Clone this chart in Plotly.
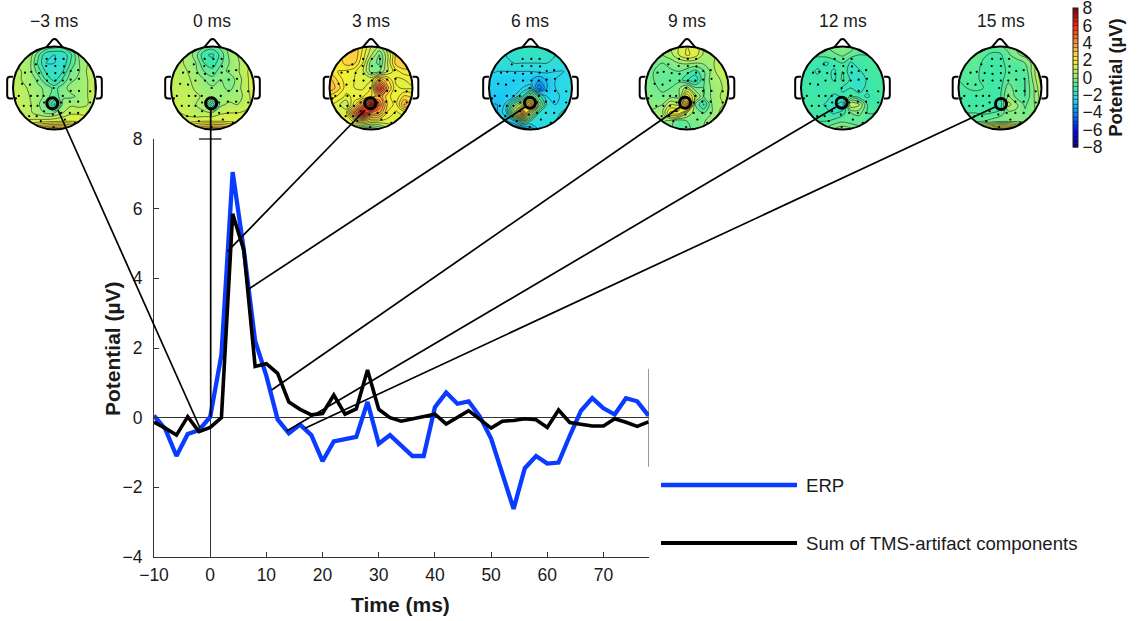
import numpy as np
import plotly.graph_objects as go

W, H = 1139, 621
time_ms = [-10,-8,-6,-4,-2,0,2,4,6,8,10,12,14,16,18,20,22,24,26,28,30,32,34,36,38,40,42,44,46,48,50,52,54,56,58,60,62,64,66,68,70,72,74,76,78]
erp = [0.06,-0.32,-1.1,-0.47,-0.36,0.02,1.8,7.05,4.8,2.2,1.2,-0.05,-0.45,-0.2,-0.5,-1.25,-0.68,-0.6,-0.55,0.45,-0.75,-0.5,-0.8,-1.1,-1.1,0.3,0.72,0.4,0.47,0.03,-0.6,-1.6,-2.62,-1.45,-1.1,-1.32,-1.29,-0.52,0.2,0.56,0.27,0.09,0.56,0.47,0.06]
artifact = [-0.13,-0.3,-0.5,0.03,-0.4,-0.28,0.0,5.85,4.8,1.47,1.55,1.27,0.45,0.24,0.08,0.12,0.65,0.1,0.25,1.37,0.24,0.0,-0.1,-0.03,0.05,0.1,-0.18,0.0,0.2,-0.05,-0.3,-0.1,-0.08,-0.03,-0.06,-0.28,0.22,-0.14,-0.2,-0.24,-0.24,-0.03,-0.13,-0.25,-0.12]
x_ticks = [-10,0,10,20,30,40,50,60,70]
x_labels = ["−10","0","10","20","30","40","50","60","70"]
y_ticks = [-4,-2,0,2,4,6,8]
y_labels = ["−4","−2","0","2","4","6","8"]
cbar_ticks = [-8,-6,-4,-2,0,2,4,6,8]
cbar_labels = ["−8","−6","−4","−2","0","2","4","6","8"]
map_titles = ["−3 ms","0 ms","3 ms","6 ms","9 ms","12 ms","15 ms"]

elec_x = [-.19,.02,.22,-.45,-.20,.02,.23,-.71,-.56,-.37,-.18,.02,.22,.39,.57,-.78,-.59,-.41,-.18,.02,.20,.39,.59,-.86,-.57,-.41,-.26,-.02,.20,.39,.59,.86,-.93,-.74,-.57,-.41,-.25,.16,.37,.57,.86,-.61,-.43,-.25,-.04,.16,.37,.57,-.33,-.02,.25,.49]
elec_y = [.70,.70,.70,.57,.53,.53,.52,.37,.39,.36,.34,.36,.37,.41,.43,.10,.08,.18,.18,.18,.18,.20,.22,-.19,-.19,-.19,-.19,0,-.19,-.07,-.07,-.08,-.25,-.43,-.43,-.43,-.35,-.35,-.33,-.33,-.35,-.68,-.68,-.56,-.64,-.6,-.6,-.6,-.8,-.94,-.76,-.84]

map_m3 = [
[.5,.5,.5,.2,-.5,-.8,-.8,-.3,.3,.5,.5],
[.5,.5,.4,-.8,-1.9,-2.0,-1.9,-1.1,.2,.5,.6],
[.5,.5,.2,-1.1,-2.0,-2.0,-1.9,-.9,0,.5,.8],
[.6,.5,.2,-.7,-1.6,-1.9,-1.5,-.4,0,.6,1.0],
[.7,.5,.3,-.1,-1.1,-1.7,-.9,-.1,.1,.5,1.1],
[.7,.7,.4,.1,-.1,-.7,-.2,.2,.3,.5,1.1],
[.8,.7,.5,.3,-.2,-.9,-.1,-.1,.1,.5,1],
[.8,.8,.6,.1,-.5,-2.2,.2,.4,.3,.5,.9],
[.9,.8,.6,.3,-.1,0,.5,.9,.9,.9,1],
[1,1,1.1,1.2,1.3,1.4,1.5,1.5,1.4,1.2,1.2],
[2,2.2,2.8,3.5,4,4.2,4.2,3.8,2.9,2.2,2]]
map_0 = [
[.5,.5,.5,.1,-.5,-.7,-.3,.2,.5,.7,.9],
[.6,.6,.4,-.3,-1.4,-1.6,-.8,.1,.5,.8,1.1],
[.6,.6,.4,0,-1.0,-1.3,-.6,0,.4,.8,1.2],
[.7,.6,.5,.1,-.5,-.8,-.2,.1,.4,.9,1.3],
[.8,.7,.6,.3,0,-.3,0,-.4,.2,.8,1.4],
[.8,.8,.7,.4,.2,.1,.2,-.2,.3,.8,1.4],
[.9,.8,.8,.6,.4,.2,.1,.3,.2,.7,1.3],
[1,.9,.8,.5,.2,-2.0,.4,.6,.5,.8,1.2],
[1,1,.8,.6,.6,.6,.9,1.0,1,1.1,1.2],
[1.2,1.2,1.3,1.4,1.5,1.5,1.5,1.4,1.3,1.3,1.3],
[2,2.2,2.7,3.4,3.9,4.1,4,3.6,2.8,2.2,2]]
map_3 = [
[2,2,2.5,2.8,2,1,.5,1.5,2.5,3,3],
[2,2.2,2.8,3.0,1.8,.6,-.5,.9,2.6,3.0,3],
[2,2.1,2.7,2.6,1.5,-.3,-.6,1.0,2.7,3.0,2.8],
[2.5,2,1.9,1.6,1.1,-.2,.0,1,1.8,2.3,2.3],
[3.2,2.4,1.7,1.5,1.4,1.4,3.5,2.5,1.4,1.5,1.7],
[3.4,2.8,1.7,1.5,1.4,2,6,3.2,1.6,1.4,1.5],
[2.4,1.9,1.4,1.6,1.9,2.5,3.5,2.2,1.6,2.6,2.4],
[1.7,1.2,.5,2.3,4,8,4.5,2.4,1.8,3.6,2.8],
[1.5,1.4,1.4,4.5,7,4,3.5,1.9,1.4,1.7,1.5],
[1.5,1.5,1.2,1.6,2,1.4,1.4,1.3,1.3,1.2,1.3],
[1.2,1,.8,-.3,-1.1,-1.1,-.7,.3,.8,1,1]]
map_6 = [
[-2,-2,-2,-1.8,-1.6,-1.5,-1.6,-1.8,-2,-2,-2],
[-2,-2,-2,-1.9,-1.8,-1.7,-1.8,-1.9,-2,-2,-2],
[-2,-2,-2.1,-2,-2,-2,-2,-2,-2.1,-2.1,-2],
[-2.4,-2.5,-2.5,-2.5,-2.5,-2.5,-2.4,-2.4,-2.5,-2.5,-2.4],
[-2.6,-2.7,-2.7,-2.7,-2.7,-2.9,-3.4,-2.9,-2.5,-2.4,-2.2],
[-2.7,-2.7,-2.8,-2.7,-2.5,-2.2,-4.5,-3,-2.5,-2.3,-2],
[-2.8,-2.9,-2.8,-2.5,-1.5,.5,-1.2,-2.5,-2.6,-2.4,-2.2],
[-3,-3,-2.4,-.3,1,4.5,0,-2.2,-2.5,-2.4,-2],
[-3,-3,-2.2,1,4.5,.5,-2,-2.2,-2.3,-1.8,-1.6],
[-3,-3,-3.2,-2.5,-1,-2,-2.3,-2.2,-2,-1.7,-1.4],
[-3,-3,-3.5,-4.2,-4.5,-3.5,-2.5,-2,-1.7,-1.5,-1.4]]
map_9 = [
[0,0,.2,.5,1,1.5,1.4,.6,.5,.5,.5],
[0,0,0,.3,1,1.6,1.3,.4,.4,.6,.8],
[-.3,-.4,-.5,-.3,0,.1,0,.1,.4,.8,1],
[-.3,-.5,-.6,-.6,-.5,-.8,-1.2,-.6,.2,.9,1],
[-.2,-.5,-.7,-.7,-.7,-1.4,-1.9,-.6,.3,.5,.9],
[-.2,-.4,-.6,-.5,-.1,.8,-.4,-.5,.1,.4,.8],
[-.2,-.3,-.4,-.2,-.2,2.5,.8,-.5,.1,.5,.8],
[-.1,-.1,0,1,.8,4.5,-.5,-1.6,0,.4,.7],
[0,.1,.4,2.2,2.4,.5,-.3,-.5,0,.6,.9],
[0,.1,.1,-.2,-1,-.5,-.4,-.1,.5,1.1,1],
[0,.1,0,-.4,-.8,-.7,-.3,0,.4,.8,.8]]
map_12 = [
[-.9,-.9,-.8,-.5,-.2,0,-.2,-.7,-.9,-1,-1],
[-1,-1,-.9,-.8,-.6,-.4,-.7,-1,-1,-1,-1],
[-1.2,-1.2,-1.3,-1.6,-1.3,-1.0,-1.6,-1.2,-1.1,-1,-1],
[-1.3,-1.3,-1.6,-1.3,-1.6,-1,-1.9,-1.6,-1.2,-1.1,-1],
[-1.3,-1.3,-1.3,-1.2,-1.6,-.9,-1.6,-2.0,-1.4,-1.2,-1.1],
[-1.2,-1.2,-1.5,-1.2,-1.0,-1.6,-1.5,-1.8,-1.3,-1.2,-1.1],
[-1.1,-1.2,-1.2,-1.2,-1.7,-1.4,-.9,-1.3,-1.6,-1.2,-1.1],
[-1,-1.1,-1.2,-1.6,-1.8,-2.3,1.0,.6,-1,-1.3,-1],
[-1,-1.1,-1.2,-1.3,-1.6,-1.2,-.5,-.3,-1,-1,-.9],
[-1,-1,-1,-1,-.8,-.6,-.8,-.9,-.9,-.9,-.9],
[-.9,-.9,-.7,-.3,.1,.4,.2,-.2,-.6,-.7,-.7]]
map_15 = [
[-.8,-.6,-.5,-.6,-.7,-.6,-.3,.1,.3,.7,1],
[-.8,-.7,-.6,-.9,-1.1,-1.1,-.6,-.1,.2,.5,1.2],
[-.9,-.8,-.7,-1.1,-1.2,-1.2,-.8,-.9,-.5,.2,1.3],
[-.9,-.8,-.8,-1.2,-1.2,-1.2,-.9,-1,-.9,.3,1.4],
[-1,-.9,-.9,-1.1,-1.2,-1.2,-.7,-.9,-1,.1,1.3],
[-1,-1,-.9,-1,-1.2,-1.2,-.2,-.8,-1,-.1,1],
[-1,-1.1,-1.2,-1.2,-1.2,-1.1,.1,-.7,-1,-.1,.8],
[-1.1,-1.2,-1.2,-1.2,-1.3,-1.4,.7,.1,-.6,-.1,.6],
[-1,-1,-1,-1.1,-1,-.8,-.2,-.1,-.4,-.1,.3],
[-.7,-.6,-.6,-.5,-.3,-.1,-.1,-.1,-.1,0,.1],
[.5,.8,1.4,2.2,3,3.5,3.4,2.4,1.4,.8,.7]]
maps = [map_m3, map_0, map_3, map_6, map_9, map_12, map_15]

# layout constants (pixels of the page)
head_cx = [54.5, 212.5, 371, 530.5, 687, 842.5, 1000]
head_cy = 88
head_r = 41.5
ring_px = [(52.3,103.3),(211.2,103.3),(370.3,103.3),(530,102.7),(685,102.7),(841.7,102.7),(1001,104)]
leaders = [((58,110),(200,428)),((210.7,110),(210.7,417)),((365,110),(227.3,251.7)),((525,107),(248.3,289.3)),
           ((680,107),(271.7,390)),((836,107),(286.7,431)),((995,107),(305,428.3))]
PAD = 1.3
FONT = "Liberation Sans, Arial, sans-serif"
JET = [[0,"#00007f"],[.11,"#0000ff"],[.25,"#0090ff"],[.344,"#28d8ee"],[.425,"#3fe8a5"],[.5,"#90ee80"],[.5625,"#d0f050"],[.625,"#f8f030"],[.6875,"#ffc840"],[.75,"#ff9030"],[.875,"#ff2010"],[1,"#7f0000"]]

def fx(p): return p / W
def fy(p): return 1 - p / H

fig = go.Figure()
grid = [round(-1 + .2 * i, 1) for i in range(11)]
grid_y = grid[::-1]
layout_axes = {}
shapes = []
for i, (z, cx) in enumerate(zip(maps, head_cx)):
    n = i + 2
    xa, ya = f"x{n}", f"y{n}"
    layout_axes[f"xaxis{n}"] = dict(domain=[fx(cx - PAD*head_r), fx(cx + PAD*head_r)], range=[-PAD, PAD], visible=False, anchor=ya, fixedrange=True)
    layout_axes[f"yaxis{n}"] = dict(domain=[fy(head_cy + PAD*head_r), fy(head_cy - PAD*head_r)], range=[-PAD, PAD], visible=False, anchor=xa, fixedrange=True)
    cb = dict(thickness=5, thicknessmode="pixels", len=139, lenmode="pixels", x=fx(1072.5), xanchor="left", y=fy(77.5), yanchor="middle",
              tickvals=cbar_ticks, ticktext=cbar_labels, ticks="", outlinecolor="#222", outlinewidth=1, xpad=0, ypad=0,
              tickfont=dict(family=FONT, size=17.5, color="#1a1a1a"), ticklabelposition="outside", ticklabeloverflow="allow",
              title=dict(text="<b>Potential (µV)</b>", side="right", font=dict(family=FONT, size=18.5, color="#1a1a1a")))
    fig.add_trace(go.Contour(x=grid, y=grid_y, z=z, xaxis=xa, yaxis=ya, zmin=-8, zmax=8, colorscale=JET, autocontour=False,
                             contours=dict(coloring="heatmap", start=-8, end=8.5, size=.5, showlines=True),
                             line=dict(color="rgba(40,40,40,0.8)", width=0.8, smoothing=1),
                             showscale=(i == 0), colorbar=cb if i == 0 else None, hoverinfo="skip"))
    fig.add_trace(go.Scatter(x=elec_x, y=elec_y, xaxis=xa, yaxis=ya, mode="markers", marker=dict(size=2.2, color="black"), showlegend=False, hoverinfo="skip"))
    # white mask around the circular scalp
    t = np.linspace(0, 2*np.pi, 121)
    hole = "M" + "L".join(f"{np.cos(a):.4f},{np.sin(a):.4f}" for a in t) + "Z"
    shapes.append(dict(type="path", xref=xa, yref=ya, path="M-1.05,-1.05L1.05,-1.05L1.05,1.05L-1.05,1.05Z" + hole, fillcolor="white", line=dict(width=0), fillrule="evenodd", layer="above"))
    shapes.append(dict(type="circle", xref=xa, yref=ya, x0=-1, x1=1, y0=-1, y1=1, line=dict(color="black", width=2), layer="above"))
    shapes.append(dict(type="path", xref=xa, yref=ya, path="M-.2,.98L-.05,1.16Q0,1.2,.05,1.16L.2,.98", line=dict(color="black", width=2), layer="above"))
    for s in (-1, 1):
        shapes.append(dict(type="path", xref=xa, yref=ya,
                           path=f"M{s*1.0},.27L{s*1.07},.27Q{s*1.14},.27,{s*1.14},.2L{s*1.14},-.18Q{s*1.14},-.25,{s*1.07},-.25L{s*1.0},-.25",
                           line=dict(color="black", width=2), layer="above"))
    rx, ry = ring_px[i]
    shapes.append(dict(type="circle", xref="paper", yref="paper", x0=fx(rx-5.5), x1=fx(rx+5.5), y0=fy(ry+5.5), y1=fy(ry-5.5), line=dict(color="black", width=3), layer="above"))

fig.add_trace(go.Scatter(x=time_ms, y=erp, mode="lines", name="ERP", line=dict(color="#0a3cff", width=4.3), showlegend=False))
fig.add_trace(go.Scatter(x=time_ms, y=artifact, mode="lines", name="Sum of TMS-artifact components", line=dict(color="black", width=3.6), showlegend=False))

for (a, b) in leaders:
    shapes.append(dict(type="line", xref="paper", yref="paper", x0=fx(a[0]), y0=fy(a[1]), x1=fx(b[0]), y1=fy(b[1]), line=dict(color="black", width=1.7), layer="above"))
shapes.append(dict(type="line", xref="paper", yref="paper", x0=fx(199), x1=fx(221.5), y0=fy(139), y1=fy(139), line=dict(color="black", width=1.2), layer="above"))
shapes.append(dict(type="line", xref="x", yref="y", x0=78.1, x1=78.1, y0=-1.41, y1=1.4, line=dict(color="#333", width=1)))
shapes.append(dict(type="line", xref="paper", yref="paper", x0=fx(661), x1=fx(797), y0=fy(485), y1=fy(485), line=dict(color="#0a3cff", width=4.5)))
shapes.append(dict(type="line", xref="paper", yref="paper", x0=fx(661), x1=fx(797), y0=fy(543), y1=fy(543), line=dict(color="black", width=3.8)))

def txt(t, x, y, size=16, bold=False, angle=0, anchor="center"):
    return dict(text=f"<b>{t}</b>" if bold else t, x=fx(x), y=fy(y), xref="paper", yref="paper", showarrow=False, xanchor=anchor, yanchor="middle",
                textangle=angle, font=dict(family=FONT, size=size, color="#1a1a1a"))
ann = [txt(t, c, 21, 17.5) for t, c in zip(map_titles, [54, 212, 371, 530, 687, 843, 1001])]
ann += [txt("ERP", 804, 485, 18.6, anchor="left"), txt("Sum of TMS-artifact components", 804, 543, 18.6, anchor="left"),
        txt("Time (ms)", 400.5, 604, 21, True), txt("Potential (µV)", 112, 349, 21, True, -90)]

axis_common = dict(showgrid=False, showline=True, linecolor="#333", linewidth=1, ticks="inside", ticklen=5, tickcolor="#333", tickwidth=1,
                   zeroline=True, zerolinecolor="#333", zerolinewidth=1, tickfont=dict(family=FONT, size=17.5, color="#1a1a1a"))
fig.update_layout(
    width=W, height=H, margin=dict(l=0, r=0, t=0, b=0, autoexpand=False), autosize=False, paper_bgcolor="white", plot_bgcolor="rgba(0,0,0,0)", showlegend=False,
    xaxis=dict(domain=[fx(154), fx(649)], range=[-10, 78.1], tickvals=x_ticks, ticktext=x_labels, anchor="y", ticklabelstandoff=2, **axis_common),
    yaxis=dict(domain=[fy(557), fy(139)], range=[-4, 8], tickvals=y_ticks, ticktext=y_labels, anchor="x", ticklabelstandoff=7, **axis_common),
    shapes=shapes, annotations=ann, **layout_axes)
fig.write_html("out.html", config=dict(displayModeBar=False), post_script="document.body.style.margin='0';document.documentElement.style.overflow='hidden';")
